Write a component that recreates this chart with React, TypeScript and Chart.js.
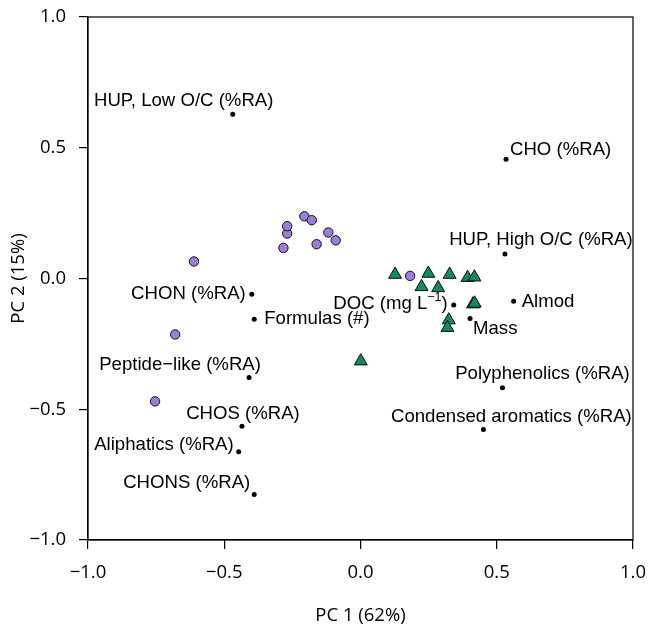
import React, { useEffect, useRef } from "react";
import { Chart, registerables } from "chart.js";

Chart.register(...registerables);

// ---- data ----
// Site scores, group A (purple circles)
const groupAX = [-0.611, -0.283, -0.269, -0.269, -0.206, -0.179, -0.161, -0.118, -0.091, 0.182, -0.680, -0.754];
const groupAY = [0.065, 0.117, 0.172, 0.200, 0.238, 0.223, 0.131, 0.176, 0.146, 0.010, -0.214, -0.470];

// Site scores, group B (green triangles)
const groupBX = [0.127, 0.249, 0.327, 0.393, 0.418, 0.224, 0.285, 0.413, 0.419, 0.324, 0.319, 0.001];
const groupBY = [0.015, 0.019, 0.015, 0.003, 0.005, -0.032, -0.036, -0.098, -0.095, -0.159, -0.188, -0.316];

// Variable loadings (black dots)
const varNames = [
  "HUP, Low O/C (%RA)",
  "CHO (%RA)",
  "HUP, High O/C (%RA)",
  "DOC (mg L^{\u22121})",
  "Almod",
  "Mass",
  "CHON (%RA)",
  "Formulas (#)",
  "Peptide\u2212like (%RA)",
  "CHOS (%RA)",
  "Aliphatics (%RA)",
  "CHONS (%RA)",
  "Polyphenolics (%RA)",
  "Condensed aromatics (%RA)",
];
const varX = [-0.469, 0.534, 0.530, 0.342, 0.562, 0.402, -0.399, -0.390, -0.409, -0.435, -0.447, -0.390, 0.521, 0.451];
const varY = [0.628, 0.456, 0.094, -0.101, -0.087, -0.153, -0.060, -0.156, -0.379, -0.565, -0.663, -0.826, -0.418, -0.577];

const tickValues = [-1, -0.5, 0, 0.5, 1];
const xTitle = "PC 1 (62%)";
const yTitle = "PC 2 (15%)";

// ---- label placement (pixel offsets from the point) ----
const labelPlacement: [CanvasTextAlign, number, number][] = [
  ["center", -49, -13],
  ["left", 4, -9],
  ["center", 36, -14],
  ["right", -6, -1],
  ["left", 8, 1],
  ["left", 3, 10],
  ["right", -6, 0],
  ["left", 10, 0],
  ["center", -69, -13],
  ["center", 1, -12],
  ["right", -5, -7],
  ["right", -4, -12],
  ["center", 40, -14],
  ["center", 28, -13],
];

const LABEL_FONT = '18.6px "Liberation Sans", Arial, sans-serif';
const SUP_FONT = '12.5px "Liberation Sans", Arial, sans-serif';
const AXIS_FAMILY = '"Open Sans", "Noto Sans", sans-serif';

function fmtTick(v: number) {
  const s = Math.abs(v).toFixed(1);
  return v < 0 ? "\u2212" + s : s;
}

function parseRich(text: string) {
  const segs: { t: string; sup: boolean }[] = [];
  const re = /\^\{([^}]*)\}/g;
  let last = 0;
  let m: RegExpExecArray | null;
  while ((m = re.exec(text))) {
    if (m.index > last) segs.push({ t: text.slice(last, m.index), sup: false });
    segs.push({ t: m[1], sup: true });
    last = m.index + m[0].length;
  }
  if (last < text.length) segs.push({ t: text.slice(last), sup: false });
  return segs;
}

function drawRich(ctx: CanvasRenderingContext2D, text: string, x: number, y: number, align: CanvasTextAlign) {
  const segs = parseRich(text);
  const widths = segs.map((s) => {
    ctx.font = s.sup ? SUP_FONT : LABEL_FONT;
    return ctx.measureText(s.t).width;
  });
  const total = widths.reduce((a, b) => a + b, 0);
  let cx = x;
  if (align === "center") cx = x - total / 2;
  else if (align === "right") cx = x - total;
  ctx.textAlign = "left";
  segs.forEach((s, i) => {
    ctx.font = s.sup ? SUP_FONT : LABEL_FONT;
    ctx.fillText(s.t, cx, s.sup ? y - 6 : y);
    cx += widths[i];
  });
}

const labelPlugin = {
  id: "varLabels",
  afterDatasetsDraw(chart: any) {
    const ctx: CanvasRenderingContext2D = chart.ctx;
    const xs = chart.scales.x;
    const ys = chart.scales.y;
    ctx.save();
    ctx.fillStyle = "#000";
    ctx.textBaseline = "middle";
    varNames.forEach((name, i) => {
      const px = xs.getPixelForValue(varX[i]);
      const py = ys.getPixelForValue(varY[i]);
      const [align, dx, dy] = labelPlacement[i];
      drawRich(ctx, name, px + dx, py + dy, align);
    });
    const { left, right, top, bottom } = chart.chartArea;
    ctx.strokeStyle = "#000";
    ctx.lineWidth = 1.2;
    ctx.strokeRect(left, top, right - left, bottom - top);
    ctx.restore();
  },
};

export default function App() {
  const ref = useRef<HTMLCanvasElement | null>(null);

  useEffect(() => {
    if (!ref.current) return;
    const axisCommon = (title: string, titlePad: any, fit: (s: any) => void) => ({
      type: "linear" as const,
      min: -1,
      max: 1,
      afterBuildTicks: (s: any) => {
        s.ticks = tickValues.map((v) => ({ value: v }));
      },
      afterFit: (s: any) => {
        fit(s);
        s.paddingLeft = 0;
        s.paddingRight = 0;
        s.paddingTop = 0;
        s.paddingBottom = 0;
      },
      ticks: {
        callback: (v: any) => fmtTick(Number(v)),
        font: { family: AXIS_FAMILY, size: 18.5 },
        color: "#000",
        padding: 13,
        maxRotation: 0,
        autoSkip: false,
      },
      grid: {
        drawOnChartArea: false,
        drawTicks: true,
        tickLength: 9,
        color: "#000",
        lineWidth: 1.2,
      },
      border: { display: true, color: "#000", width: 1.2 },
      title: {
        display: true,
        text: title,
        color: "#000",
        font: { family: AXIS_FAMILY, size: 18.5 },
        padding: titlePad,
      },
    });

    const chart = new Chart(ref.current, {
      type: "scatter",
      data: {
        datasets: [
          {
            label: "A",
            data: groupAX.map((x, i) => ({ x, y: groupAY[i] })),
            pointStyle: "circle",
            pointRadius: 4.7,
            backgroundColor: "#9B7FD7",
            borderColor: "#111",
            borderWidth: 1,
          },
          {
            label: "B",
            data: groupBX.map((x, i) => ({ x, y: groupBY[i] })),
            pointStyle: "triangle",
            pointRadius: 7.5,
            backgroundColor: "#14895E",
            borderColor: "#111",
            borderWidth: 1,
          },
          {
            label: "Variables",
            data: varX.map((x, i) => ({ x, y: varY[i] })),
            pointStyle: "circle",
            pointRadius: 2.5,
            backgroundColor: "#000",
            borderColor: "#000",
            borderWidth: 0,
          },
        ],
      },
      options: {
        animation: false,
        responsive: false,
        layout: { padding: { top: 17, right: 15, left: 0, bottom: 0 } },
        plugins: {
          legend: { display: false },
          tooltip: { enabled: false },
        },
        scales: {
          x: axisCommon(xTitle, { top: 0, bottom: -2 }, (s: any) => {
            s.height = 85;
          }) as any,
          y: axisCommon(yTitle, { top: 8, bottom: 0 }, (s: any) => {
            s.width = 88;
          }) as any,
        },
      },
      plugins: [labelPlugin],
    });
    return () => chart.destroy();
  }, []);

  return (
    <div style={{ position: "absolute", left: 0, top: 0, width: 648, height: 625, background: "#fff" }}>
      <canvas ref={ref} width={648} height={625} style={{ display: "block" }} />
    </div>
  );
}
